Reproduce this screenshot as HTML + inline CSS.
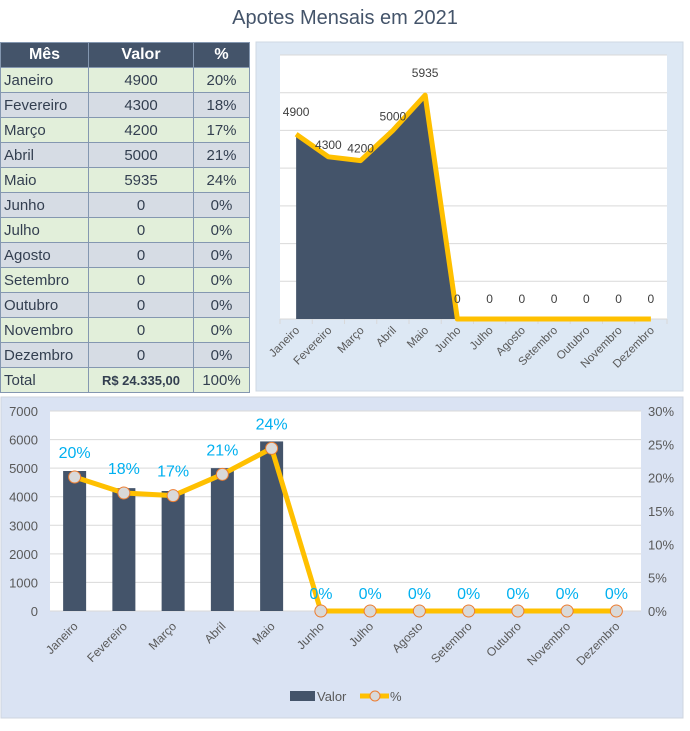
<!DOCTYPE html>
<html><head><meta charset="utf-8">
<style>
body{margin:0;width:690px;height:731px;background:#fff;font-family:"Liberation Sans",sans-serif;position:relative;overflow:hidden}
#title{position:absolute;left:0;width:690px;top:7px;text-align:center;font-size:20px;color:#44546a}
table{position:absolute;left:0;top:42px;border-collapse:collapse;font-size:15px;color:#333f50}
td,th{border:1px solid #8497b0;height:25px;padding:0 3px;box-sizing:border-box}
th{background:#44546a;color:#fff;font-size:16px}
tr:nth-child(even) td{background:#e2efda}
tr:nth-child(odd) td{background:#d6dce4}
.c{text-align:center}
svg{position:absolute;left:0;top:0}
</style></head><body>
<div id="title">Apotes Mensais em 2021</div>
<table>
<colgroup><col style="width:88px"><col style="width:105px"><col style="width:56px"></colgroup>
<tbody id="tb"><tr><th>Mês</th><th>Valor</th><th>%</th></tr></tbody>
</table>
<svg id="s" width="690" height="731"></svg>
<script>
const months=["Janeiro","Fevereiro","Março","Abril","Maio","Junho","Julho","Agosto","Setembro","Outubro","Novembro","Dezembro"];
const values=[4900,4300,4200,5000,5935,0,0,0,0,0,0,0];
const pcts=[20.1,17.7,17.3,20.5,24.4,0,0,0,0,0,0,0];
const pctLabels=["20%","18%","17%","21%","24%","0%","0%","0%","0%","0%","0%","0%"];
const leftTicks=[0,1000,2000,3000,4000,5000,6000,7000];
const rightTicks=[0,5,10,15,20,25,30];

const tb=document.getElementById('tb');
months.forEach((m,i)=>{
  const tr=document.createElement('tr');
  
  
  tr.innerHTML='<td>'+m+'</td><td class="c">'+values[i]+'</td><td class="c">'+pctLabels[i]+'</td>';
  tb.appendChild(tr);
});
const tot=document.createElement('tr');


tot.innerHTML='<td>Total</td><td class="c" style="font-weight:bold;font-size:13px">R$ 24.335,00</td><td class="c">100%</td>';
tb.appendChild(tot);

const s=document.getElementById('s');const NS='http://www.w3.org/2000/svg';
function E(t,a,p){const e=document.createElementNS(NS,t);for(const k in a)e.setAttribute(k,a[k]);(p||s).appendChild(e);return e}
function T(x,y,txt,a){const e=E('text',Object.assign({x:x,y:y,'font-family':'Liberation Sans, sans-serif'},a));e.textContent=txt;return e}

// ---- top area chart ----
E('rect',{x:256,y:42,width:427,height:349,fill:'#dde8f4',stroke:'#cfd8e3'});
const A={l:280,r:667,t:55,b:319};
E('rect',{x:A.l,y:A.t,width:A.r-A.l,height:A.b-A.t,fill:'#fff'});
const ax=i=>A.l+(i+0.5)*(A.r-A.l)/12, ay=v=>A.b-v/7000*(A.b-A.t);
leftTicks.forEach(v=>{const g=E('line',{x1:A.l,x2:A.r,y1:ay(v),y2:ay(v),stroke:'#d9d9d9'});});
for(let i=0;i<=12;i++){const x=A.l+i*(A.r-A.l)/12;E('line',{x1:x,x2:x,y1:A.b,y2:A.b+5,stroke:'#d9d9d9'});}
let d='M'+ax(0)+','+A.b;values.forEach((v,i)=>d+=' L'+ax(i)+','+ay(v));d+=' L'+ax(11)+','+A.b+'Z';
const area=E('path',{d:d,fill:'#44546a'});
const tl=E('polyline',{points:values.map((v,i)=>ax(i)+','+ay(v)).join(' '),fill:'none',stroke:'#ffc000','stroke-width':5,'stroke-linejoin':'round'});

values.forEach((v,i)=>{const t=T(ax(i),ay(v)-(i==0||i==4?18:i==3?10:v==0?16:8),String(v),{'font-size':12,fill:'#404040','text-anchor':'middle'});});
months.forEach((m,i)=>{const x=ax(i)+4,y=A.b+12;const t=T(x,y,m,{'font-size':11.5,fill:'#595959','text-anchor':'end',transform:'rotate(-45 '+x+' '+y+')'});});

// ---- bottom combo chart ----
E('rect',{x:1,y:397,width:682,height:321,fill:'#dae3f3',stroke:'#cfd5df'});
const B={l:50,r:641,t:411,b:611};
E('rect',{x:B.l,y:B.t,width:B.r-B.l,height:B.b-B.t,fill:'#fff'});
const bx=i=>B.l+(i+0.5)*(B.r-B.l)/12, by=v=>B.b-v/7000*(B.b-B.t), py=p=>B.b-p/30*(B.b-B.t);
leftTicks.forEach(v=>{const g=E('line',{x1:B.l,x2:B.r,y1:by(v),y2:by(v),stroke:'#d9d9d9'});
 const t=T(38,by(v)+5,String(v),{'font-size':13,fill:'#595959','text-anchor':'end'});});
rightTicks.forEach(p=>{const t=T(648,py(p)+5,p+'%',{'font-size':13,fill:'#595959'});});
values.forEach((v,i)=>{const r=E('rect',{x:bx(i)-11.5,y:by(v),width:23,height:B.b-by(v),fill:'#44546a'});});
const pl=E('polyline',{points:pcts.map((p,i)=>bx(i)+','+py(p)).join(' '),fill:'none',stroke:'#ffc000','stroke-width':5,'stroke-linejoin':'round'});

pcts.forEach((p,i)=>{const c=E('circle',{cx:bx(i),cy:py(p),r:6,fill:'#d9d9d9',stroke:'#ed7d31','stroke-width':1});
 const t=T(bx(i),py(p)-(p>0?19:12),pctLabels[i],{'font-size':16,fill:'#00b0f0','text-anchor':'middle'});});
months.forEach((m,i)=>{const x=bx(i)+4,y=B.b+16;const t=T(x,y,m,{'font-size':12,fill:'#595959','text-anchor':'end',transform:'rotate(-45 '+x+' '+y+')'});});
// legend
const lg=E('g',{});
E('rect',{x:290,y:691,width:25,height:10,fill:'#44546a'},lg);
T(317,701,'Valor',{'font-size':13,fill:'#595959'},lg);
E('line',{x1:360,x2:389,y1:696,y2:696,stroke:'#ffc000','stroke-width':5},lg);
E('circle',{cx:375,cy:696,r:5,fill:'#d9d9d9',stroke:'#ed7d31'},lg);
T(390,701,'%',{'font-size':13,fill:'#595959'},lg);
</script>
</body></html>
